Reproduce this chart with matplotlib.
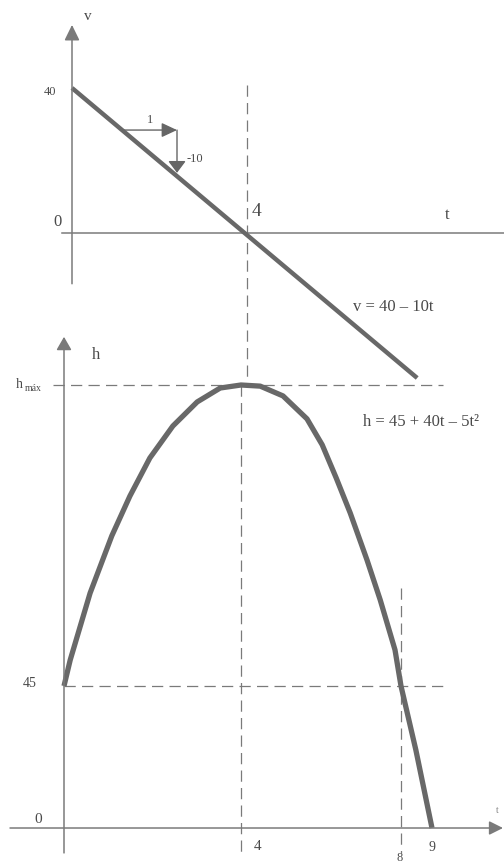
import numpy as np
import matplotlib
matplotlib.use('Agg')
import matplotlib.pyplot as plt

# top chart: v = 40 - 10t (sketch endpoints)
v_t = [0.0, 7.89]
v_vals = [40.0, -40.0]

# bottom chart: h = 45 + 40t - 5t^2
h_t = [0.0, 0.14, 0.59, 1.08, 1.49, 1.94, 2.46, 3.01, 3.53, 4.0, 4.48,
       5.05, 5.65, 6.03, 6.38, 6.73, 7.15, 7.48, 7.85, 8.0, 8.48, 9.0]
h_vals = [45.0, 51.9, 69.7, 84.9, 95.5, 105.6, 114.1, 120.5, 124.2, 125.0, 124.7,
          122.1, 116.0, 109.1, 100.3, 91.0, 78.5, 67.9, 54.6, 45.0, 24.7, 0.0]

t_marks = [0, 4, 8, 9]
h_marks = [0, 45, 125]
h_max = 125

CURVE = '#686868'
AXIS = '#7a7a7a'
TXT = '#4a4a4a'
plt.rcParams['font.family'] = ['Liberation Serif', 'DejaVu Serif']


def piecewise(knots, pos):
    """Piecewise-linear scale (the sketch is not drawn to scale)."""
    knots = np.asarray(knots, float)
    pos = np.asarray(pos, float)
    s0 = (pos[1] - pos[0]) / (knots[1] - knots[0])
    s1 = (pos[-1] - pos[-2]) / (knots[-1] - knots[-2])

    def fwd(v):
        v = np.asarray(v, float)
        out = np.interp(v, knots, pos)
        out = np.where(v < knots[0], pos[0] + (v - knots[0]) * s0, out)
        return np.where(v > knots[-1], pos[-1] + (v - knots[-1]) * s1, out)

    def inv(p):
        p = np.asarray(p, float)
        out = np.interp(p, pos, knots)
        out = np.where(p < pos[0], knots[0] + (p - pos[0]) / s0, out)
        return np.where(p > pos[-1], knots[-1] + (p - pos[-1]) / s1, out)
    return fwd, inv


def arrow(ax, start, tip, ms=20, hl=0.47, hw=0.23, lw=1.1, color=AXIS):
    ax.annotate('', xy=tip, xytext=start,
                arrowprops=dict(arrowstyle=f'-|>,head_length={hl},head_width={hw}',
                                color=color, lw=lw, shrinkA=0, shrinkB=0,
                                mutation_scale=ms))


def label(ax, s, xy, off, size, color=TXT):
    ax.annotate(s, xy=xy, xytext=off, textcoords='offset pixels',
                fontsize=size, color=color, ha='center', va='center')


W, H = 504, 866
fig = plt.figure(figsize=(W / 100, H / 100), dpi=100)

# ---------- top: velocity ----------
ax1 = fig.add_axes([0, 1 - 385 / H, 1, 385 / H])
ax1.set_xlim(-72 / 43.75, (W - 72) / 43.75)
ax1.set_ylim((233 - 385) / 3.625, 233 / 3.625)
ax1.axis('off')
ax1.patch.set_alpha(0)

ax1.plot([-0.23, 10.5], [0, 0], color=AXIS, lw=1.1, clip_on=False)
arrow(ax1, (0, -14), (0, 57.4))
ax1.plot([4, 4], [40.8, ax1.get_ylim()[0]], color=AXIS, lw=0.9, ls=(0, (9, 5)))
ax1.plot(v_t, v_vals, color=CURVE, lw=3.2, solid_capstyle='butt')

# slope triangle
arrow(ax1, (1.17, 28.4), (2.4, 28.4), hl=0.47, hw=0.22, lw=1.0, color='#666666')
arrow(ax1, (2.4, 28.4), (2.4, 16.6), hl=0.36, hw=0.27, lw=1.0, color='#666666')
ax1.text(1.78, 31.2, '1', fontsize=9, color=TXT, ha='center', va='center')
ax1.text(2.61, 20.4, '-10', fontsize=9, color=TXT, ha='left', va='center')

label(ax1, '40', (0, 40), (-22, -4), 9)
label(ax1, '0', (0, 0), (-14, 11), 12)
label(ax1, '4', (4, 0), (9, 22), 14)
label(ax1, 'v', (0, 57.4), (16, 8), 11)
ax1.text(8.57, 4.97, 't', fontsize=12, color=TXT, ha='center', va='center')
ax1.text(6.42, -20.4, 'v = 40 – 10t', fontsize=12, color=TXT, ha='left', va='center')

# ---------- bottom: height ----------
ax2 = fig.add_axes([0, 0, 1, 566 / H])
ax2.set_xscale('function', functions=piecewise(t_marks, [64, 241, 401, 432]))
ax2.set_yscale('function', functions=piecewise(h_marks, [0, 142, 443]))
ax2.set_xlim(-64 / 44.25, 9 + (W - 432) / 31)
ax2.set_ylim(-(H - 828) / 3.156, h_max + 85 / 3.7625)
ax2.axis('off')
ax2.patch.set_alpha(0)

dash = dict(color=AXIS, lw=0.9, ls=(0, (9, 5)))
ax2.plot([-0.25, 9.35], [h_max, h_max], **dash)
ax2.plot([0, 9.48], [45, 45], **dash)
ax2.plot([4, 4], [h_max, -7.9], **dash)
ax2.plot([8, 8], [71.0, -7.9], **dash)

arrow(ax2, (0, -7.9), (0, 137.8), hl=0.4, hw=0.23)
arrow(ax2, (-1.22, 0), (11.29, 0), ms=14, hl=0.6, hw=0.3)

ax2.plot(h_t, h_vals, color=CURVE, lw=3.8, solid_joinstyle='round',
         solid_capstyle='butt')

label(ax2, 'h', (0, 137.8), (32, -18), 12)
label(ax2, 'h', (0, h_max), (-45, 1), 10)
label(ax2, 'máx', (0, h_max), (-31, -3), 7)
label(ax2, '45', (0, 45), (-34, 3), 10)
label(ax2, '0', (0, 0), (-26, 9), 11)
label(ax2, '4', (4, 0), (17, -18), 11)
label(ax2, '8', (8, 0), (-1, -30), 9)
label(ax2, '9', (9, 0), (0, -19), 10)
label(ax2, 't', (11.29, 0), (-6, 18), 7, color='#888888')
ax2.text(7.05, 115.2, 'h = 45 + 40t – 5t²', fontsize=12, color=TXT,
         ha='left', va='center')

fig.savefig('out.png', dpi=100, facecolor='white')
plt.close(fig)
